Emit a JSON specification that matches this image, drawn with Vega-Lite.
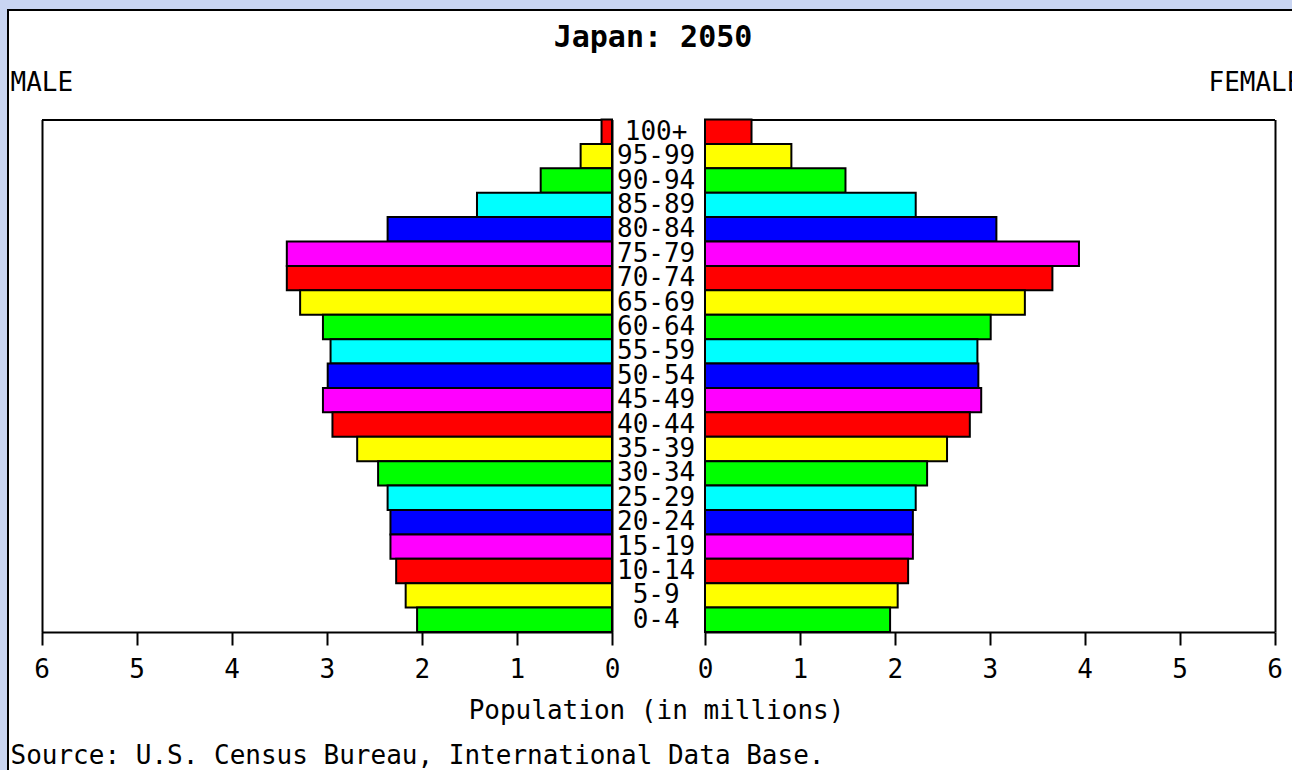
{
  "$schema": "https://vega.github.io/schema/vega-lite/v6.json",
  "width": 1290,
  "height": 765,
  "autosize": {"type": "none"},
  "padding": {"left": 8, "top": 10, "right": 0, "bottom": 0},
  "background": "#c9d5f2",
  "title": {
    "text": "Japan: 2050",
    "anchor": "middle",
    "frame": "group",
    "orient": "top",
    "offset": -67,
    "baseline": "alphabetic",
    "font": "DejaVu Sans Mono",
    "fontSize": 30,
    "fontWeight": "bold",
    "color": "black"
  },
  "config": {
    "view": {"fill": "white", "stroke": "black", "strokeWidth": 2},
    "font": "DejaVu Sans Mono",
    "axis": {
      "labelFont": "DejaVu Sans Mono",
      "titleFont": "DejaVu Sans Mono",
      "labelColor": "black",
      "titleColor": "black",
      "domainColor": "black",
      "tickColor": "black",
      "gridColor": "black",
      "titleFontWeight": "normal",
      "labelFontSize": 26,
      "titleFontSize": 26
    }
  },
  "data": {
    "values": [
      {"age": "100+", "male": 0.11, "female": 0.49},
      {"age": "95-99", "male": 0.33, "female": 0.91},
      {"age": "90-94", "male": 0.75, "female": 1.48},
      {"age": "85-89", "male": 1.42, "female": 2.22},
      {"age": "80-84", "male": 2.36, "female": 3.07},
      {"age": "75-79", "male": 3.42, "female": 3.94},
      {"age": "70-74", "male": 3.42, "female": 3.66},
      {"age": "65-69", "male": 3.28, "female": 3.37},
      {"age": "60-64", "male": 3.04, "female": 3.01},
      {"age": "55-59", "male": 2.96, "female": 2.87},
      {"age": "50-54", "male": 2.99, "female": 2.88},
      {"age": "45-49", "male": 3.04, "female": 2.91},
      {"age": "40-44", "male": 2.94, "female": 2.79},
      {"age": "35-39", "male": 2.68, "female": 2.55},
      {"age": "30-34", "male": 2.46, "female": 2.34},
      {"age": "25-29", "male": 2.36, "female": 2.22},
      {"age": "20-24", "male": 2.33, "female": 2.19},
      {"age": "15-19", "male": 2.33, "female": 2.19},
      {"age": "10-14", "male": 2.27, "female": 2.14},
      {"age": "5-9", "male": 2.17, "female": 2.03},
      {"age": "0-4", "male": 2.05, "female": 1.95}
    ]
  },
  "layer": [
    {
      "mark": {"type": "bar", "stroke": "black", "strokeWidth": 2},
      "encoding": {
        "y": {
          "field": "age",
          "type": "nominal",
          "scale": {
            "type": "band",
            "domain": ["100+", "95-99", "90-94", "85-89", "80-84", "75-79", "70-74", "65-69", "60-64", "55-59", "50-54", "45-49", "40-44", "35-39", "30-34", "25-29", "20-24", "15-19", "10-14", "5-9", "0-4"],
            "range": [109.5, 622],
            "paddingInner": 0,
            "paddingOuter": 0
          },
          "axis": null
        },
        "x": {
          "field": "male",
          "type": "quantitative",
          "scale": {"domain": [0, 6], "range": [604, 33.5], "nice": false},
          "axis": {
            "orient": "bottom",
            "offset": -143,
            "values": [0, 1, 2, 3, 4, 5, 6],
            "format": "d",
            "tickSize": 13,
            "tickWidth": 2,
            "domainWidth": 2,
            "labelPadding": 11,
            "labelFlush": false,
            "labelOverlap": false,
            "grid": false,
            "title": "Source: U.S. Census Bureau, International Data Base.",
            "titleX": 2,
            "titleY": 131,
            "titleAlign": "left",
            "titleBaseline": "alphabetic"
          }
        },
        "color": {
          "field": "age",
          "type": "nominal",
          "scale": {
            "domain": ["100+", "95-99", "90-94", "85-89", "80-84", "75-79", "70-74", "65-69", "60-64", "55-59", "50-54", "45-49", "40-44", "35-39", "30-34", "25-29", "20-24", "15-19", "10-14", "5-9", "0-4"],
            "range": ["#ff0000", "#ffff00", "#00ff00", "#00ffff", "#0000ff", "#ff00ff", "#ff0000", "#ffff00", "#00ff00", "#00ffff", "#0000ff", "#ff00ff", "#ff0000", "#ffff00", "#00ff00", "#00ffff", "#0000ff", "#ff00ff", "#ff0000", "#ffff00", "#00ff00"]
          },
          "legend": null
        }
      }
    },
    {
      "mark": {"type": "bar", "stroke": "black", "strokeWidth": 2},
      "encoding": {
        "y": {"field": "age", "type": "nominal", "axis": null},
        "x": {
          "field": "female",
          "type": "quantitative",
          "scale": {"domain": [0, 6], "range": [697, 1266.5], "nice": false},
          "axis": {
            "orient": "bottom",
            "offset": -143,
            "values": [0, 1, 2, 3, 4, 5, 6],
            "format": "d",
            "tickSize": 13,
            "tickWidth": 2,
            "domainWidth": 2,
            "labelPadding": 11,
            "labelFlush": false,
            "labelOverlap": false,
            "grid": false,
            "title": "Population (in millions)",
            "titleX": 648,
            "titleY": 86,
            "titleAlign": "center",
            "titleBaseline": "alphabetic"
          }
        },
        "color": {"field": "age", "type": "nominal", "legend": null}
      }
    },
    {
      "mark": {"type": "bar", "opacity": 0},
      "encoding": {
        "y": {"field": "age", "type": "nominal", "axis": null},
        "x": {
          "field": "male",
          "type": "quantitative",
          "scale": {"domain": [0, 6], "range": [604, 33.5], "nice": false},
          "axis": {
            "orient": "top",
            "offset": -109.5,
            "values": [0, 6],
            "ticks": false,
            "labels": false,
            "domain": true,
            "domainWidth": 2,
            "grid": true,
            "gridWidth": 2,
            "gridOpacity": 1,
            "title": "MALE",
            "titleX": 2,
            "titleY": -29.5,
            "titleAlign": "left",
            "titleBaseline": "alphabetic"
          }
        }
      }
    },
    {
      "mark": {"type": "bar", "opacity": 0},
      "encoding": {
        "y": {"field": "age", "type": "nominal", "axis": null},
        "x": {
          "field": "female",
          "type": "quantitative",
          "scale": {"domain": [0, 6], "range": [697, 1266.5], "nice": false},
          "axis": {
            "orient": "top",
            "offset": -109.5,
            "values": [0, 6],
            "ticks": false,
            "labels": false,
            "domain": true,
            "domainWidth": 2,
            "grid": true,
            "gridWidth": 2,
            "gridOpacity": 1,
            "title": "FEMALE",
            "titleX": 1200,
            "titleY": -29.5,
            "titleAlign": "left",
            "titleBaseline": "alphabetic"
          }
        }
      }
    },
    {
      "mark": {"type": "text", "font": "DejaVu Sans Mono", "fontSize": 26, "align": "center", "baseline": "middle", "color": "black"},
      "encoding": {
        "y": {"field": "age", "type": "nominal", "axis": null},
        "x": {
          "datum": -0.515,
          "type": "quantitative",
          "scale": {"domain": [0, 6], "range": [697, 1266.5], "nice": false, "zero": false},
          "axis": null
        },
        "text": {"field": "age", "type": "nominal"}
      }
    }
  ],
  "resolve": {"scale": {"x": "independent"}, "axis": {"x": "independent"}}
}
